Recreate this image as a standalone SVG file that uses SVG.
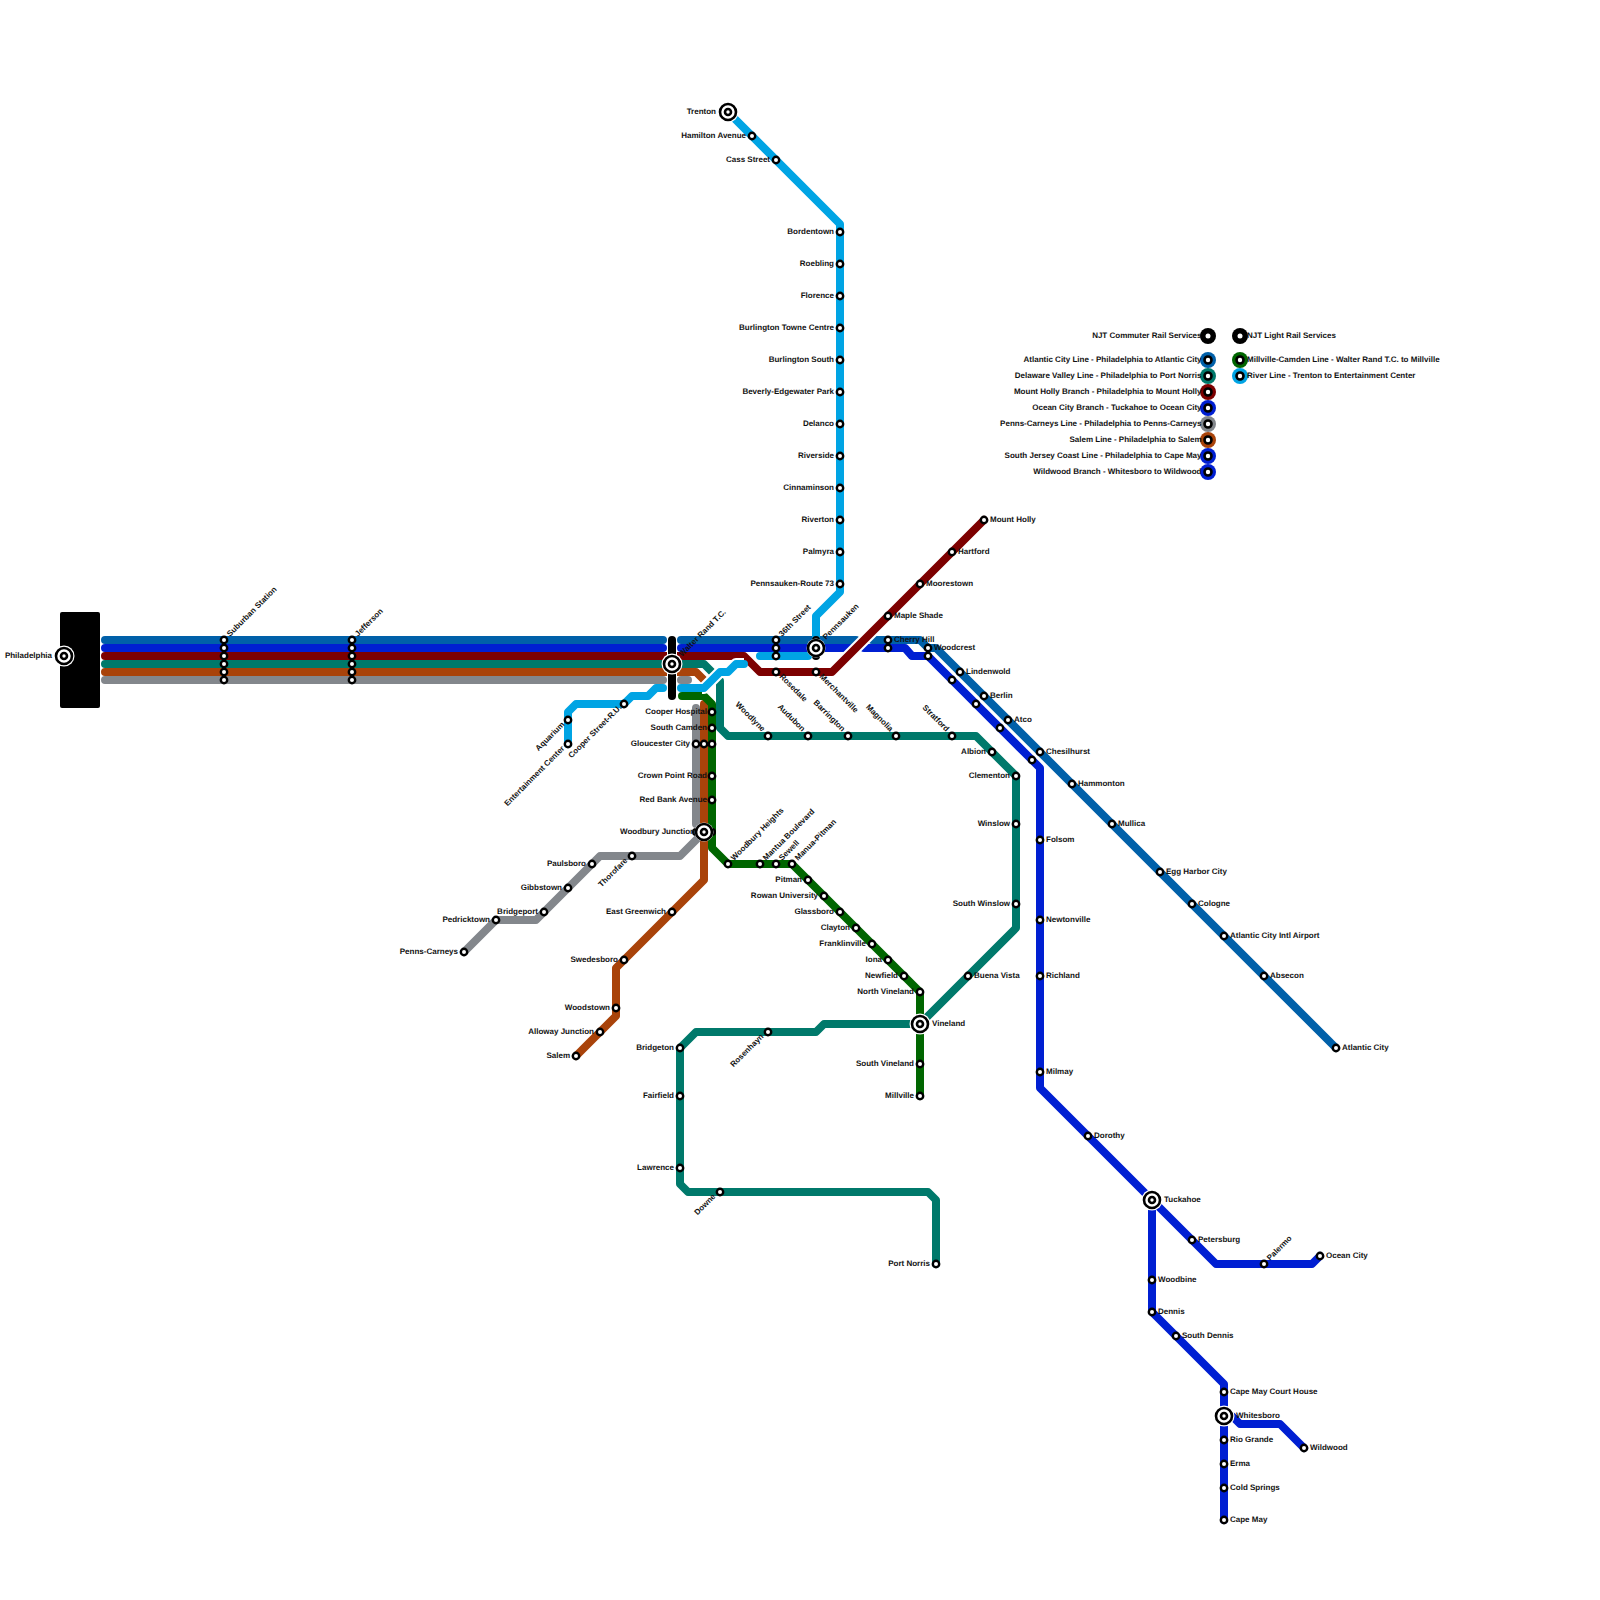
<svg xmlns="http://www.w3.org/2000/svg" width="1600" height="1600" viewBox="0 0 1600 1600">
<style>
text{font-family:"Liberation Sans",Arial,sans-serif;font-size:8px;font-weight:700;fill:#111;text-rendering:geometricPrecision}
.e{text-anchor:end}
.l{fill:none;stroke-width:8;stroke-linejoin:round;stroke-linecap:round}
.c{fill:none;stroke:#fff;stroke-width:12;stroke-linejoin:round}
.ac{stroke:#0060a9}.db{stroke:#001fd2}.mh{stroke:#7d0000}.te{stroke:#00796b}.br{stroke:#a9430a}.gr{stroke:#83878c}.lb{stroke:#00a4e4}.gn{stroke:#006600}
.s{fill:#fff;stroke:#000;stroke-width:2.4}
.x{fill:#fff;stroke:#000;stroke-width:2.6}
.h{fill:#fff}
</style>
<g id="connectors">
<path class="l gr" d="M105 680H663M681 680H688M696 708V824M704 832L680 856H600L536 920H496L464 952"/>
<path class="l br" d="M105 672H696L705 681M704 704V880L624 960L616 968V1016L576 1056"/>
<path class="l te" d="M105 664H704L716 676M720 681V728L728 736H976L1016 776V928L920 1024H824L816 1032H696L680 1048V1184L688 1192H928L936 1200V1264"/>
<path class="l ac" d="M105 640H663M681 640H856M872 640H920L928 648H936L1336 1048"/>
<path class="l db" d="M105 648H663M681 648H850M864 648H905L912 656H928L1032 760L1040 768V1088L1152 1200L1216 1264H1312L1320 1256M1152 1200V1312L1224 1384V1520M1224 1416H1232L1240 1424H1280L1304 1448"/>
<path class="c" d="M760 672H832L984 520"/>
<path class="l mh" d="M105 656H744L760 672H832L984 520"/>
<path class="l gn" d="M682 696H704L712 704V848L728 864H792L920 992V1096"/>
<path class="c" d="M702 688H704L720 672H728L736 664H744"/>
<path class="l lb" d="M728 112L840 224V592L816 616V648M760 656H808M681 688H704L720 672H728L736 664H744M568 744V712L576 704H624L632 696H648L656 688H663"/>
<path fill="none" stroke="#fff" stroke-width="10" d="M672 634V702"/>
<path class="l" stroke="#000" d="M672 640V696"/>
</g>
<g id="n-philadelphia"><rect x="60" y="612" width="40" height="96" rx="2" fill="#000"/><circle cx="64" cy="656" r="10.5" class="h"/><circle cx="64" cy="656" r="8" class="x"/><circle cx="64" cy="656" r="3" class="x"/><text class="e" x="52" y="658">Philadelphia</text></g>
<g id="n-suburban"><circle class="s" cx="224" cy="640" r="3.2"/><circle class="s" cx="224" cy="648" r="3.2"/><circle class="s" cx="224" cy="656" r="3.2"/><circle class="s" cx="224" cy="664" r="3.2"/><circle class="s" cx="224" cy="672" r="3.2"/><circle class="s" cx="224" cy="680" r="3.2"/><text transform="rotate(-45 230 637)" x="230" y="637">Suburban Station</text></g>
<g id="n-jefferson"><circle class="s" cx="352" cy="640" r="3.2"/><circle class="s" cx="352" cy="648" r="3.2"/><circle class="s" cx="352" cy="656" r="3.2"/><circle class="s" cx="352" cy="664" r="3.2"/><circle class="s" cx="352" cy="672" r="3.2"/><circle class="s" cx="352" cy="680" r="3.2"/><text transform="rotate(-45 358 637)" x="358" y="637">Jefferson</text></g>
<g id="n-walter"><circle cx="672" cy="664" r="10.5" class="h"/><circle cx="672" cy="664" r="8" class="x"/><circle cx="672" cy="664" r="3" class="x"/><text transform="rotate(-45 682 657)" x="682" y="657">Walter Rand T.C.</text></g>
<g id="n-36th"><circle class="s" cx="776" cy="640" r="3.2"/><circle class="s" cx="776" cy="648" r="3.2"/><circle class="s" cx="776" cy="656" r="3.2"/><text transform="rotate(-45 782 637)" x="782" y="637">36th Street</text></g>
<g id="n-pennsauken"><path d="M816 640V656" stroke="#000" stroke-width="8" stroke-linecap="round"/><circle cx="816" cy="648" r="9.5" class="h"/><circle cx="816" cy="648" r="8" class="x"/><circle cx="816" cy="648" r="3" class="x"/><text transform="rotate(-45 826 640)" x="826" y="640">Pennsauken</text></g>
<g id="n-rosedale"><circle class="s" cx="776" cy="672" r="3.2"/><text transform="rotate(45 779 677)" x="779" y="677">Rosedale</text></g>
<g id="n-merchantville"><circle class="s" cx="816" cy="672" r="3.2"/><text transform="rotate(45 819 677)" x="819" y="677">Merchantville</text></g>
<g id="n-trenton"><circle cx="728" cy="112" r="10.5" class="h"/><circle cx="728" cy="112" r="8" class="x"/><circle cx="728" cy="112" r="3" class="x"/><text class="e" x="716" y="114">Trenton</text></g>
<g id="n-hamilton"><circle class="s" cx="752" cy="136" r="3.2"/><text class="e" x="746" y="138">Hamilton Avenue</text></g>
<g id="n-cass"><circle class="s" cx="776" cy="160" r="3.2"/><text class="e" x="770" y="162">Cass Street</text></g>
<g id="n-bordentown"><circle class="s" cx="840" cy="232" r="3.2"/><text class="e" x="834" y="234">Bordentown</text></g>
<g id="n-roebling"><circle class="s" cx="840" cy="264" r="3.2"/><text class="e" x="834" y="266">Roebling</text></g>
<g id="n-florence"><circle class="s" cx="840" cy="296" r="3.2"/><text class="e" x="834" y="298">Florence</text></g>
<g id="n-btc"><circle class="s" cx="840" cy="328" r="3.2"/><text class="e" x="834" y="330">Burlington Towne Centre</text></g>
<g id="n-bs"><circle class="s" cx="840" cy="360" r="3.2"/><text class="e" x="834" y="362">Burlington South</text></g>
<g id="n-beverly"><circle class="s" cx="840" cy="392" r="3.2"/><text class="e" x="834" y="394">Beverly-Edgewater Park</text></g>
<g id="n-delanco"><circle class="s" cx="840" cy="424" r="3.2"/><text class="e" x="834" y="426">Delanco</text></g>
<g id="n-riverside"><circle class="s" cx="840" cy="456" r="3.2"/><text class="e" x="834" y="458">Riverside</text></g>
<g id="n-cinnaminson"><circle class="s" cx="840" cy="488" r="3.2"/><text class="e" x="834" y="490">Cinnaminson</text></g>
<g id="n-riverton"><circle class="s" cx="840" cy="520" r="3.2"/><text class="e" x="834" y="522">Riverton</text></g>
<g id="n-palmyra"><circle class="s" cx="840" cy="552" r="3.2"/><text class="e" x="834" y="554">Palmyra</text></g>
<g id="n-route73"><circle class="s" cx="840" cy="584" r="3.2"/><text class="e" x="834" y="586">Pennsauken-Route 73</text></g>
<g id="n-mountholly"><circle class="s" cx="984" cy="520" r="3.2"/><text x="990" y="522">Mount Holly</text></g>
<g id="n-hartford"><circle class="s" cx="952" cy="552" r="3.2"/><text x="958" y="554">Hartford</text></g>
<g id="n-moorestown"><circle class="s" cx="920" cy="584" r="3.2"/><text x="926" y="586">Moorestown</text></g>
<g id="n-mapleshade"><circle class="s" cx="888" cy="616" r="3.2"/><text x="894" y="618">Maple Shade</text></g>
<g id="n-cherryhill"><circle class="s" cx="888" cy="640" r="3.2"/><circle class="s" cx="888" cy="648" r="3.2"/><text x="894" y="642">Cherry Hill</text></g>
<g id="n-woodcrest"><circle class="s" cx="928" cy="648" r="3.2"/><circle class="s" cx="928" cy="656" r="3.2"/><text x="934" y="650">Woodcrest</text></g>
<g id="n-lindenwold"><circle class="s" cx="960" cy="672" r="3.2"/><circle class="s" cx="952" cy="680" r="3.2"/><text x="966" y="674">Lindenwold</text></g>
<g id="n-berlin"><circle class="s" cx="984" cy="696" r="3.2"/><circle class="s" cx="976" cy="704" r="3.2"/><text x="990" y="698">Berlin</text></g>
<g id="n-atco"><circle class="s" cx="1008" cy="720" r="3.2"/><circle class="s" cx="1000" cy="728" r="3.2"/><text x="1014" y="722">Atco</text></g>
<g id="n-chesilhurst"><circle class="s" cx="1040" cy="752" r="3.2"/><circle class="s" cx="1032" cy="760" r="3.2"/><text x="1046" y="754">Chesilhurst</text></g>
<g id="n-hammonton"><circle class="s" cx="1072" cy="784" r="3.2"/><text x="1078" y="786">Hammonton</text></g>
<g id="n-mullica"><circle class="s" cx="1112" cy="824" r="3.2"/><text x="1118" y="826">Mullica</text></g>
<g id="n-eggharbor"><circle class="s" cx="1160" cy="872" r="3.2"/><text x="1166" y="874">Egg Harbor City</text></g>
<g id="n-cologne"><circle class="s" cx="1192" cy="904" r="3.2"/><text x="1198" y="906">Cologne</text></g>
<g id="n-acairport"><circle class="s" cx="1224" cy="936" r="3.2"/><text x="1230" y="938">Atlantic City Intl Airport</text></g>
<g id="n-absecon"><circle class="s" cx="1264" cy="976" r="3.2"/><text x="1270" y="978">Absecon</text></g>
<g id="n-atlanticcity"><circle class="s" cx="1336" cy="1048" r="3.2"/><text x="1342" y="1050">Atlantic City</text></g>
<g id="n-folsom"><circle class="s" cx="1040" cy="840" r="3.2"/><text x="1046" y="842">Folsom</text></g>
<g id="n-newtonville"><circle class="s" cx="1040" cy="920" r="3.2"/><text x="1046" y="922">Newtonville</text></g>
<g id="n-richland"><circle class="s" cx="1040" cy="976" r="3.2"/><text x="1046" y="978">Richland</text></g>
<g id="n-milmay"><circle class="s" cx="1040" cy="1072" r="3.2"/><text x="1046" y="1074">Milmay</text></g>
<g id="n-dorothy"><circle class="s" cx="1088" cy="1136" r="3.2"/><text x="1094" y="1138">Dorothy</text></g>
<g id="n-tuckahoe"><circle cx="1152" cy="1200" r="10.5" class="h"/><circle cx="1152" cy="1200" r="8" class="x"/><circle cx="1152" cy="1200" r="3" class="x"/><text x="1164" y="1202">Tuckahoe</text></g>
<g id="n-petersburg"><circle class="s" cx="1192" cy="1240" r="3.2"/><text x="1198" y="1242">Petersburg</text></g>
<g id="n-palermo"><circle class="s" cx="1264" cy="1264" r="3.2"/><text transform="rotate(-45 1270 1261)" x="1270" y="1261">Palermo</text></g>
<g id="n-oceancity"><circle class="s" cx="1320" cy="1256" r="3.2"/><text x="1326" y="1258">Ocean City</text></g>
<g id="n-woodbine"><circle class="s" cx="1152" cy="1280" r="3.2"/><text x="1158" y="1282">Woodbine</text></g>
<g id="n-dennis"><circle class="s" cx="1152" cy="1312" r="3.2"/><text x="1158" y="1314">Dennis</text></g>
<g id="n-southdennis"><circle class="s" cx="1176" cy="1336" r="3.2"/><text x="1182" y="1338">South Dennis</text></g>
<g id="n-capemaych"><circle class="s" cx="1224" cy="1392" r="3.2"/><text x="1230" y="1394">Cape May Court House</text></g>
<g id="n-whitesboro"><circle cx="1224" cy="1416" r="10.5" class="h"/><circle cx="1224" cy="1416" r="8" class="x"/><circle cx="1224" cy="1416" r="3" class="x"/><text x="1236" y="1418">Whitesboro</text></g>
<g id="n-riogrande"><circle class="s" cx="1224" cy="1440" r="3.2"/><text x="1230" y="1442">Rio Grande</text></g>
<g id="n-erma"><circle class="s" cx="1224" cy="1464" r="3.2"/><text x="1230" y="1466">Erma</text></g>
<g id="n-coldsprings"><circle class="s" cx="1224" cy="1488" r="3.2"/><text x="1230" y="1490">Cold Springs</text></g>
<g id="n-capemay"><circle class="s" cx="1224" cy="1520" r="3.2"/><text x="1230" y="1522">Cape May</text></g>
<g id="n-wildwood"><circle class="s" cx="1304" cy="1448" r="3.2"/><text x="1310" y="1450">Wildwood</text></g>
<g id="n-woodlyne"><circle class="s" cx="768" cy="736" r="3.2"/><text class="e" transform="rotate(45 762 732)" x="762" y="732">Woodlyne</text></g>
<g id="n-audubon"><circle class="s" cx="808" cy="736" r="3.2"/><text class="e" transform="rotate(45 802 732)" x="802" y="732">Audubon</text></g>
<g id="n-barrington"><circle class="s" cx="848" cy="736" r="3.2"/><text class="e" transform="rotate(45 842 732)" x="842" y="732">Barrington</text></g>
<g id="n-magnolia"><circle class="s" cx="896" cy="736" r="3.2"/><text class="e" transform="rotate(45 890 732)" x="890" y="732">Magnolia</text></g>
<g id="n-stratford"><circle class="s" cx="952" cy="736" r="3.2"/><text class="e" transform="rotate(45 946 732)" x="946" y="732">Stratford</text></g>
<g id="n-albion"><circle class="s" cx="992" cy="752" r="3.2"/><text class="e" x="986" y="754">Albion</text></g>
<g id="n-clementon"><circle class="s" cx="1016" cy="776" r="3.2"/><text class="e" x="1010" y="778">Clementon</text></g>
<g id="n-winslow"><circle class="s" cx="1016" cy="824" r="3.2"/><text class="e" x="1010" y="826">Winslow</text></g>
<g id="n-southwinslow"><circle class="s" cx="1016" cy="904" r="3.2"/><text class="e" x="1010" y="906">South Winslow</text></g>
<g id="n-buenavista"><circle class="s" cx="968" cy="976" r="3.2"/><text x="974" y="978">Buena Vista</text></g>
<g id="n-vineland"><circle cx="920" cy="1024" r="10.5" class="h"/><circle cx="920" cy="1024" r="8" class="x"/><circle cx="920" cy="1024" r="3" class="x"/><text x="932" y="1026">Vineland</text></g>
<g id="n-rosenhayn"><circle class="s" cx="768" cy="1032" r="3.2"/><text class="e" transform="rotate(-45 764 1037)" x="764" y="1037">Rosenhayn</text></g>
<g id="n-bridgeton"><circle class="s" cx="680" cy="1048" r="3.2"/><text class="e" x="674" y="1050">Bridgeton</text></g>
<g id="n-fairfield"><circle class="s" cx="680" cy="1096" r="3.2"/><text class="e" x="674" y="1098">Fairfield</text></g>
<g id="n-lawrence"><circle class="s" cx="680" cy="1168" r="3.2"/><text class="e" x="674" y="1170">Lawrence</text></g>
<g id="n-downe"><circle class="s" cx="720" cy="1192" r="3.2"/><text class="e" transform="rotate(-45 716 1197)" x="716" y="1197">Downe</text></g>
<g id="n-portnorris"><circle class="s" cx="936" cy="1264" r="3.2"/><text class="e" x="930" y="1266">Port Norris</text></g>
<g id="n-cooperhospital"><circle class="s" cx="712" cy="712" r="3.2"/><text class="e" x="707" y="714">Cooper Hospital</text></g>
<g id="n-southcamden"><circle class="s" cx="712" cy="728" r="3.2"/><text class="e" x="707" y="730">South Camden</text></g>
<g id="n-gloucester"><circle class="s" cx="712" cy="744" r="3.2"/><circle class="s" cx="704" cy="744" r="3.2"/><circle class="s" cx="696" cy="744" r="3.2"/><text class="e" x="690" y="746">Gloucester City</text></g>
<g id="n-crownpoint"><circle class="s" cx="712" cy="776" r="3.2"/><text class="e" x="707" y="778">Crown Point Road</text></g>
<g id="n-redbank"><circle class="s" cx="712" cy="800" r="3.2"/><text class="e" x="707" y="802">Red Bank Avenue</text></g>
<g id="n-woodburyj"><path d="M696 832H712" stroke="#000" stroke-width="8" stroke-linecap="round"/><circle cx="704" cy="832" r="9.5" class="h"/><circle cx="704" cy="832" r="8" class="x"/><circle cx="704" cy="832" r="3" class="x"/><text class="e" x="695" y="834">Woodbury Junction</text></g>
<g id="n-woodburyh"><circle class="s" cx="728" cy="864" r="3.2"/><text transform="rotate(-45 734 861)" x="734" y="861">Woodbury Heights</text></g>
<g id="n-mantua"><circle class="s" cx="760" cy="864" r="3.2"/><text transform="rotate(-45 766 861)" x="766" y="861">Mantua Boulevard</text></g>
<g id="n-sewell"><circle class="s" cx="776" cy="864" r="3.2"/><text transform="rotate(-45 782 861)" x="782" y="861">Sewell</text></g>
<g id="n-manua"><circle class="s" cx="792" cy="864" r="3.2"/><text transform="rotate(-45 798 861)" x="798" y="861">Manua-Pitman</text></g>
<g id="n-pitman"><circle class="s" cx="808" cy="880" r="3.2"/><text class="e" x="802" y="882">Pitman</text></g>
<g id="n-rowan"><circle class="s" cx="824" cy="896" r="3.2"/><text class="e" x="818" y="898">Rowan University</text></g>
<g id="n-glassboro"><circle class="s" cx="840" cy="912" r="3.2"/><text class="e" x="834" y="914">Glassboro</text></g>
<g id="n-clayton"><circle class="s" cx="856" cy="928" r="3.2"/><text class="e" x="850" y="930">Clayton</text></g>
<g id="n-franklinville"><circle class="s" cx="872" cy="944" r="3.2"/><text class="e" x="866" y="946">Franklinville</text></g>
<g id="n-iona"><circle class="s" cx="888" cy="960" r="3.2"/><text class="e" x="882" y="962">Iona</text></g>
<g id="n-newfield"><circle class="s" cx="904" cy="976" r="3.2"/><text class="e" x="898" y="978">Newfield</text></g>
<g id="n-northvineland"><circle class="s" cx="920" cy="992" r="3.2"/><text class="e" x="914" y="994">North Vineland</text></g>
<g id="n-southvineland"><circle class="s" cx="920" cy="1064" r="3.2"/><text class="e" x="914" y="1066">South Vineland</text></g>
<g id="n-millville"><circle class="s" cx="920" cy="1096" r="3.2"/><text class="e" x="914" y="1098">Millville</text></g>
<g id="n-eastgreenwich"><circle class="s" cx="672" cy="912" r="3.2"/><text class="e" x="666" y="914">East Greenwich</text></g>
<g id="n-swedesboro"><circle class="s" cx="624" cy="960" r="3.2"/><text class="e" x="618" y="962">Swedesboro</text></g>
<g id="n-woodstown"><circle class="s" cx="616" cy="1008" r="3.2"/><text class="e" x="610" y="1010">Woodstown</text></g>
<g id="n-alloway"><circle class="s" cx="600" cy="1032" r="3.2"/><text class="e" x="594" y="1034">Alloway Junction</text></g>
<g id="n-salem"><circle class="s" cx="576" cy="1056" r="3.2"/><text class="e" x="570" y="1058">Salem</text></g>
<g id="n-thorofare"><circle class="s" cx="632" cy="856" r="3.2"/><text class="e" transform="rotate(-45 628 861)" x="628" y="861">Thorofare</text></g>
<g id="n-paulsboro"><circle class="s" cx="592" cy="864" r="3.2"/><text class="e" x="586" y="866">Paulsboro</text></g>
<g id="n-gibbstown"><circle class="s" cx="568" cy="888" r="3.2"/><text class="e" x="562" y="890">Gibbstown</text></g>
<g id="n-bridgeport"><circle class="s" cx="544" cy="912" r="3.2"/><text class="e" x="538" y="914">Bridgeport</text></g>
<g id="n-pedricktown"><circle class="s" cx="496" cy="920" r="3.2"/><text class="e" x="490" y="922">Pedricktown</text></g>
<g id="n-pennscarneys"><circle class="s" cx="464" cy="952" r="3.2"/><text class="e" x="458" y="954">Penns-Carneys</text></g>
<g id="n-cooperst"><circle class="s" cx="624" cy="704" r="3.2"/><text class="e" transform="rotate(-45 622 708)" x="622" y="708">Cooper Street-R.U.</text></g>
<g id="n-aquarium"><circle class="s" cx="568" cy="720" r="3.2"/><text class="e" transform="rotate(-45 565 725)" x="565" y="725">Aquarium</text></g>
<g id="n-entertainment"><circle class="s" cx="568" cy="744" r="3.2"/><text class="e" transform="rotate(-45 565 749)" x="565" y="749">Entertainment Center</text></g>
<g id="legend">
<circle cx="1208" cy="336" r="8" fill="#000"/><circle cx="1208" cy="336" r="2.5" class="h"/><text class="e" x="1201.5" y="338">NJT Commuter Rail Services</text>
<circle cx="1240" cy="336" r="8" fill="#000"/><circle cx="1240" cy="336" r="2.5" class="h"/><text x="1247" y="338">NJT Light Rail Services</text>
<circle cx="1208" cy="360" r="8" fill="#0060a9"/><circle cx="1208" cy="360" r="3.5" class="x"/><text class="e" x="1201.5" y="362">Atlantic City Line - Philadelphia to Atlantic City</text>
<circle cx="1208" cy="376" r="8" fill="#00796b"/><circle cx="1208" cy="376" r="3.5" class="x"/><text class="e" x="1201.5" y="378">Delaware Valley Line - Philadelphia to Port Norris</text>
<circle cx="1208" cy="392" r="8" fill="#7d0000"/><circle cx="1208" cy="392" r="3.5" class="x"/><text class="e" x="1201.5" y="394">Mount Holly Branch - Philadelphia to Mount Holly</text>
<circle cx="1208" cy="408" r="8" fill="#001fd2"/><circle cx="1208" cy="408" r="3.5" class="x"/><text class="e" x="1201.5" y="410">Ocean City Branch - Tuckahoe to Ocean City</text>
<circle cx="1208" cy="424" r="8" fill="#83878c"/><circle cx="1208" cy="424" r="3.5" class="x"/><text class="e" x="1201.5" y="426">Penns-Carneys Line - Philadelphia to Penns-Carneys</text>
<circle cx="1208" cy="440" r="8" fill="#a9430a"/><circle cx="1208" cy="440" r="3.5" class="x"/><text class="e" x="1201.5" y="442">Salem Line - Philadelphia to Salem</text>
<circle cx="1208" cy="456" r="8" fill="#001fd2"/><circle cx="1208" cy="456" r="3.5" class="x"/><text class="e" x="1201.5" y="458">South Jersey Coast Line - Philadelphia to Cape May</text>
<circle cx="1208" cy="472" r="8" fill="#001fd2"/><circle cx="1208" cy="472" r="3.5" class="x"/><text class="e" x="1201.5" y="474">Wildwood Branch - Whitesboro to Wildwood</text>
<circle cx="1240" cy="360" r="8" fill="#006600"/><circle cx="1240" cy="360" r="3.5" class="x"/><text x="1247" y="362">Millville-Camden Line - Walter Rand T.C. to Millville</text>
<circle cx="1240" cy="376" r="8" fill="#00a4e4"/><circle cx="1240" cy="376" r="3.5" class="x"/><text x="1247" y="378">River Line - Trenton to Entertainment Center</text>
</g>
</svg>
